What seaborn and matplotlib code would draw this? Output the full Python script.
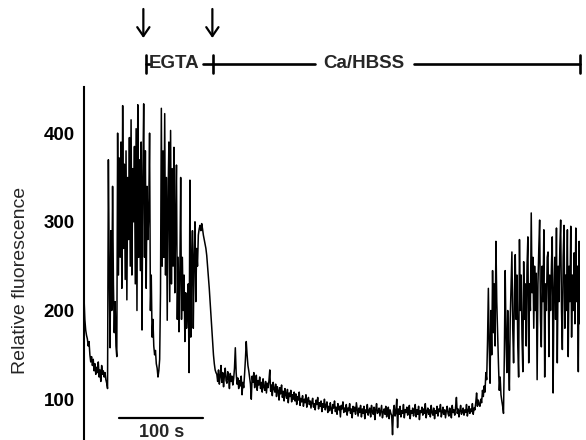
import numpy as np
import pandas as pd
import matplotlib
matplotlib.use("Agg")
import matplotlib.pyplot as plt
import seaborn as sns

# ---------------- data (1 sample per second) ----------------
sample_interval_s = 1.0

pre_burst = [215, 190, 178, 172, 168, 160, 165, 150, 142, 148, 138, 145, 132, 140, 128,
             136, 130, 142, 125, 133, 120, 138, 128, 132, 125, 130, 122, 118, 112]

burst_oscillations = [
    370, 250, 158, 290, 200, 340, 230, 175, 210, 160,
    148, 400, 240, 372, 260, 390, 225, 431, 270, 365,
    235, 380, 212, 350, 280, 395, 250, 415, 240, 360,
    300, 385, 230, 405, 200, 432, 260, 370, 245, 390,
    178, 350, 433, 260, 380, 225, 340, 280, 310, 400,
    200, 240, 170, 190, 160, 150, 155, 140, 135, 125,
    132, 145, 220, 428, 250, 380, 260, 422, 240, 350,
    189, 330, 390, 210, 403, 230, 360, 250, 384, 220,
    300, 364, 190, 260, 176, 240, 350, 190, 260, 200,
    240, 165, 220, 180, 200, 230, 130, 347, 170, 250,
    290, 180, 260, 300, 210, 270, 250, 285, 292, 296,
    290, 298, 292, 285, 280, 275, 270, 262, 250, 238,
    225, 210, 195, 180, 165, 150, 140, 133, 130]

egta_and_ca_baseline = [
    128, 120, 133, 117, 126, 138, 119, 130, 114, 127, 135, 121, 118, 131, 124, 112, 129, 120,
    126, 116, 123, 135, 158, 130, 117, 124, 112, 121, 115, 126, 105, 119, 113,
    128, 145, 165, 150, 138, 132, 124, 117, 100, 126, 119, 130, 113, 122, 127, 110, 121, 116, 125, 112,
    119, 108, 123, 114, 110, 120, 107, 118, 113, 121, 133, 109, 116, 104, 119, 112, 108, 117, 103, 114,
    110, 99, 113, 106, 116, 102, 109, 98, 112, 105, 101, 111, 96, 107, 103, 110, 97, 105, 100, 108,
    98, 106, 94, 103, 99, 108, 93, 101, 97, 104, 92, 100, 96, 105, 91, 99, 102, 94, 98, 90,
    97, 101, 91, 95, 88, 99, 94, 102, 89, 96, 92, 98, 86, 95, 91, 100, 88, 93, 97, 85,
    92, 87, 96, 89, 84, 94, 90, 98, 86, 91, 83, 95, 88, 92, 80, 93, 89, 97, 85, 90,
    86, 94, 82, 90, 87, 95, 84, 89, 79, 92, 86, 91, 83, 96, 88, 81, 90, 85, 93, 80,
    89, 84, 92, 78, 88, 85, 94, 82, 87, 90, 80, 93, 86, 83, 91, 77, 88, 95, 84, 86,
    90, 81, 87, 93, 79, 85, 89, 83, 92, 80, 86, 91, 78, 88, 84, 82, 60, 87, 93, 81,
    85, 100, 68, 89, 83, 92, 80, 87, 84, 94, 79, 88, 85, 91, 82, 86, 93, 78, 87, 84,
    90, 81, 86, 94, 80, 88, 83, 92, 77, 87, 85, 91, 82, 89, 84, 95, 79, 86, 90, 83,
    88, 80, 93, 85, 82, 90, 78, 87, 84, 92, 81, 89, 86, 94, 80, 85, 91, 83, 88, 79,
    87, 92, 84, 81, 90, 86, 79, 93, 85, 88, 82, 91, 102, 84, 89, 80, 87, 93, 83, 86,
    90, 82, 88, 85, 94, 81, 87, 92, 84, 89, 86, 95, 83, 90, 88, 96, 107, 92, 99, 94]

ca_oscillations = [
    92, 100, 96, 110, 103, 115, 108, 130, 122, 165,
    225, 160, 118, 200, 150, 245, 175, 230, 160, 278,
    210, 175, 140, 110, 125, 105, 98, 92, 84, 150,
    245, 170, 130, 200, 150, 110, 190, 230, 266, 180,
    141, 220, 263, 190, 240, 160, 125, 280, 200, 240,
    170, 131, 255, 190, 230, 160, 250, 283, 141, 230,
    200, 310, 220, 260, 180, 250, 200, 242, 122, 230,
    270, 302, 190, 159, 250, 210, 291, 125, 230, 200,
    260, 266, 148, 240, 200, 250, 283, 107, 220, 260,
    190, 293, 141, 250, 210, 270, 302, 200, 156, 260,
    296, 180, 240, 200, 291, 148, 250, 210, 295, 170,
    240, 200, 265, 185, 293, 210, 250, 131, 278, 185]

y_ticks = [100, 200, 300, 400]
y_label = "Relative fluorescence"
egta_label = "EGTA"
ca_label = "Ca/HBSS"
arrow_times_s = [70.6, 152.7]
egta_period_s = (74.0, 153.5)
ca_period_s = (153.5, 590.0)
scale_bar_s = (42.0, 142.0)
scale_bar_label = "100 s"

fluorescence = np.array(pre_burst + burst_oscillations + egta_and_ca_baseline + ca_oscillations, dtype=float)
time_s = np.arange(len(fluorescence)) * sample_interval_s
df = pd.DataFrame({"time": time_s, "fluorescence": fluorescence})

# ---------------- figure ----------------
sns.set_style("white")
plt.rcParams["font.family"] = ["Liberation Sans", "DejaVu Sans"]

W, H = 586, 440
fig = plt.figure(figsize=(W / 100, H / 100), dpi=100)
ax = fig.add_axes([84 / W, 0.0, 496 / W, 353 / H])

sns.lineplot(data=df, x="time", y="fluorescence", ax=ax, color="black",
             linewidth=1.1, estimator=None, sort=False)

ax.set_xlim(0, 590)
ax.set_ylim(54, 452)
ax.set_yticks(y_ticks)
ax.set_yticklabels([str(v) for v in y_ticks], fontweight="bold", fontsize=13.5)
ax.tick_params(axis="y", direction="in", length=8.4, width=1.2, pad=6.5, colors="black")
ax.set_xticks([])
ax.set_xlabel("")
ax.set_ylabel("")
for s in ["top", "right", "bottom"]:
    ax.spines[s].set_visible(False)
ax.spines["left"].set_linewidth(1.5)
ax.spines["left"].set_color("black")

fig.text(21 / W, 1 - 280 / H, y_label, rotation=90, ha="center", va="center", fontsize=14)

# scale bar
ax.plot(list(scale_bar_s), [78.6, 78.6], color="black", lw=1.6, clip_on=False)
ax.text(np.mean(scale_bar_s), 63, scale_bar_label, ha="center", va="center",
        fontsize=13, fontweight="bold", clip_on=False)

# annotations above the axes
tr = ax.get_xaxis_transform()
def ay(px):
    return (H - px) / 353.0

for t in arrow_times_s:
    ax.annotate("", xy=(t, ay(38)), xytext=(t, ay(9)), xycoords=tr, textcoords=tr,
                arrowprops=dict(arrowstyle="->,head_length=0.32,head_width=0.22",
                                mutation_scale=20, lw=1.6, color="black",
                                shrinkA=0, shrinkB=0), annotation_clip=False)

yb = ay(64)
tick_half = 9 / 353.0
lw_b = 1.9
# EGTA bracket
ax.plot([egta_period_s[0]] * 2, [yb - tick_half, yb + tick_half], transform=tr, color="black", lw=lw_b, clip_on=False)
ax.plot([egta_period_s[0], egta_period_s[0] + 5], [yb, yb], transform=tr, color="black", lw=lw_b, clip_on=False)
ax.text(107, yb, egta_label, transform=tr, ha="center", va="center", fontsize=13.5, fontweight="bold")
ax.plot([egta_period_s[1] - 12, egta_period_s[1]], [yb, yb], transform=tr, color="black", lw=lw_b, clip_on=False)
ax.plot([egta_period_s[1]] * 2, [yb - tick_half, yb + tick_half], transform=tr, color="black", lw=lw_b, clip_on=False)
# Ca/HBSS bracket
ax.plot([ca_period_s[0], 275], [yb, yb], transform=tr, color="black", lw=lw_b, clip_on=False)
ax.text(333, yb, ca_label, transform=tr, ha="center", va="center", fontsize=13.5, fontweight="bold")
ax.plot([392, ca_period_s[1]], [yb, yb], transform=tr, color="black", lw=lw_b, clip_on=False)
ax.plot([ca_period_s[1]] * 2, [yb - tick_half, yb + tick_half], transform=tr, color="black", lw=lw_b, clip_on=False)

fig.savefig("out.png", dpi=100)
